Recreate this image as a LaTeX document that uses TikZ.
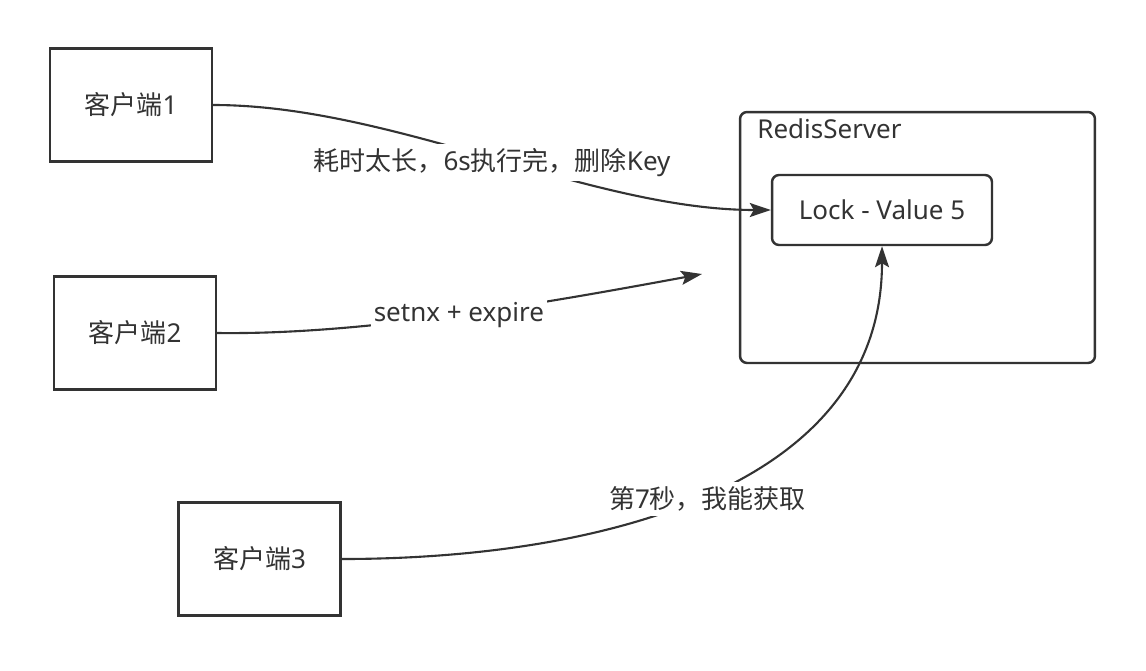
\documentclass[tikz,border=0pt]{standalone}
\usepackage{fontspec}
\setmainfont{Noto Sans}
\newfontfamily\cjk{Noto Sans CJK SC}
\usetikzlibrary{arrows.meta}
\definecolor{charcoal}{RGB}{51, 51, 51}

\begin{document}
\begin{tikzpicture}[x=0.02cm, y=-0.02cm, color=charcoal,
        font=\fontsize{14.8pt}{17pt}\selectfont,
        client/.style={draw, line width=1.4pt, minimum width=3.24cm, minimum height=2.26cm},
        server/.style={draw, line width=1.4pt, rounded corners=0.14cm, minimum width=7.1cm, minimum height=5.02cm},
        lockbox/.style={draw, line width=1.4pt, rounded corners=0.14cm, minimum width=4.4cm, minimum height=1.4cm},
        link/.style={line width=1.2pt, -{Stealth[length=0.42cm, width=0.28cm, inset=0.08cm]}},
        tag/.style={fill=white, inner xsep=1.5pt, inner ysep=2.5pt}]
    \useasboundingbox (0,0) rectangle (1146,670);
    \node[client]                     (c1)      at (131,105)      {{\cjk 客户端}1};
    \node[client]                     (c2)      at (135,333)      {{\cjk 客户端}2};
    \node[client]                     (c3)      at (259.5,559)    {{\cjk 客户端}3};
    \node[server]                     (srv)     at (917.5,237.5)  {};
    \node[anchor=west, inner sep=0pt] (srvname) at (757,129)      {RedisServer};
    \node[lockbox]                    (lock)    at (882,210)      {Lock - Value 5};
    \coordinate                       (t2)      at (702,274);
    \draw[link] (c1.east) .. controls +(180,0) and +(-180,0) .. (lock.west)
        node[tag, pos=0.5, yshift=-0.1cm] {{\cjk 耗时太长，}6s{\cjk 执行完，删除}Key};
    \draw[link] (c2.east) .. controls +(150,2) and +(-152,28) .. (t2)
        node[tag, pos=0.5] {setnx + expire};
    \draw[link] (c3.east) .. controls +(255,0) and +(0,243) .. (lock.south)
        node[tag, pos=0.5, yshift=-0.1cm] {{\cjk 第}7{\cjk 秒，我能获取}};
\end{tikzpicture}
\end{document}
